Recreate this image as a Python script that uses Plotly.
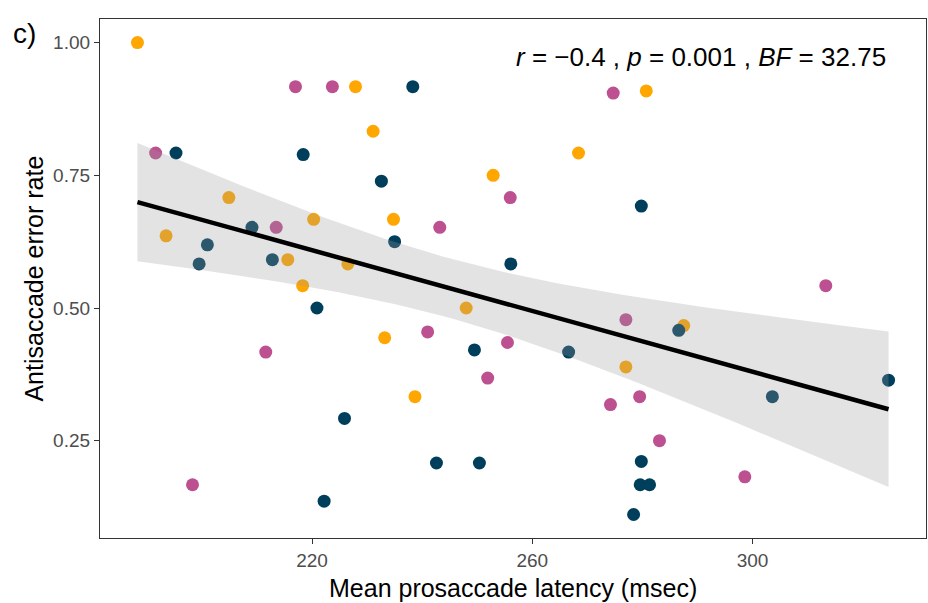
import numpy as np
import plotly.graph_objects as go

# ---- data ----
orange_x = [188.3, 227.9, 231.1, 204.9, 220.3, 193.5, 215.6, 226.5, 218.3, 233.2,
            280.7, 268.4, 252.9, 234.8, 248.0, 238.7, 277.0, 287.5]
orange_y = [1.000, 0.917, 0.833, 0.708, 0.667, 0.636, 0.591, 0.583, 0.542, 0.444,
            0.909, 0.792, 0.750, 0.667, 0.500, 0.333, 0.389, 0.467]

magenta_x = [217.0, 223.7, 191.6, 213.5, 211.6, 198.3, 274.7, 256.0, 243.2, 277.0,
             241.0, 255.5, 251.9, 274.2, 279.5, 313.3, 283.1, 298.6]
magenta_y = [0.917, 0.917, 0.792, 0.652, 0.417, 0.167, 0.905, 0.708, 0.652, 0.478,
             0.455, 0.435, 0.368, 0.318, 0.333, 0.542, 0.250, 0.182]

navy_x = [195.3, 218.4, 232.6, 209.1, 201.0, 199.5, 212.8, 220.9, 225.9, 222.2,
          238.3, 279.8, 235.0, 256.1, 249.5, 266.6, 242.6, 250.4, 279.8, 279.6,
          281.3, 278.4, 286.6, 303.6, 324.7]
navy_y = [0.792, 0.789, 0.739, 0.652, 0.619, 0.583, 0.591, 0.500, 0.292, 0.136,
          0.917, 0.692, 0.625, 0.583, 0.421, 0.417, 0.208, 0.208, 0.211, 0.167,
          0.167, 0.111, 0.458, 0.333, 0.364]

x_ticks = [220, 260, 300]
y_ticks = [0.25, 0.50, 0.75, 1.00]
stat_text = "<i>r</i> = \u22120.4 , <i>p</i> = 0.001 , <i>BF</i> = 32.75"
panel_label = "c)"
x_title = "Mean prosaccade latency (msec)"
y_title = "Antisaccade error rate"

groups = [
    (orange_x, orange_y, "#ffa600"),
    (magenta_x, magenta_y, "#bc5090"),
    (navy_x, navy_y, "#003f5c"),
]

# ---- linear fit with 95% confidence band (as geom_smooth(method = "lm")) ----
all_x = np.array(orange_x + magenta_x + navy_x)
all_y = np.array(orange_y + magenta_y + navy_y)
n = len(all_x)
b1, b0 = np.polyfit(all_x, all_y, 1)
resid = all_y - (b0 + b1 * all_x)
s = np.sqrt(np.sum(resid ** 2) / (n - 2))
xm = all_x.mean()
sxx = np.sum((all_x - xm) ** 2)
xs = np.linspace(all_x.min(), all_x.max(), 80)
fit = b0 + b1 * xs
se = s * np.sqrt(1.0 / n + (xs - xm) ** 2 / sxx)
tq = 2.001
upper = fit + tq * se
lower = fit - tq * se

fig = go.Figure()
for gx, gy, col in groups:
    fig.add_trace(go.Scatter(x=gx, y=gy, mode="markers",
                             marker=dict(size=13, color=col, line=dict(width=0)),
                             showlegend=False, hoverinfo="skip"))

fig.add_trace(go.Scatter(x=np.concatenate([xs, xs[::-1]]),
                         y=np.concatenate([upper, lower[::-1]]),
                         fill="toself", fillcolor="rgba(153,153,153,0.28)",
                         line=dict(width=0), mode="lines",
                         showlegend=False, hoverinfo="skip"))
fig.add_trace(go.Scatter(x=xs, y=fit, mode="lines",
                         line=dict(color="black", width=4.5),
                         showlegend=False, hoverinfo="skip"))

axis_common = dict(showgrid=False, zeroline=False, showline=True, mirror=True,
                   linecolor="#333333", linewidth=1.2, ticks="outside",
                   ticklen=5, tickwidth=1.2, tickcolor="#333333",
                   tickfont=dict(size=19, color="#4d4d4d"))

fig.update_layout(
    width=928, height=603,
    margin=dict(l=100, r=2, t=19, b=65),
    paper_bgcolor="white", plot_bgcolor="white",
    font=dict(family="Liberation Sans, Arial, sans-serif", color="black"),
    xaxis=dict(range=[181.5, 331.5], tickvals=x_ticks,
               ticktext=[str(v) for v in x_ticks], **axis_common),
    yaxis=dict(range=[0.0667, 1.0445], tickvals=y_ticks,
               ticktext=["%.2f" % v for v in y_ticks], **axis_common),
    annotations=[
        dict(text=x_title, xref="paper", yref="paper", x=0.5, y=-0.097,
             xanchor="center", yanchor="middle", showarrow=False,
             font=dict(size=25, color="black")),
        dict(text=y_title, xref="paper", yref="paper", x=-0.081, y=0.5,
             xanchor="center", yanchor="middle", textangle=-90, showarrow=False,
             font=dict(size=25, color="black")),
        dict(text=stat_text, xref="paper", yref="paper", x=0.727, y=0.927,
             xanchor="center", yanchor="middle", showarrow=False,
             font=dict(size=26, color="black")),
        dict(text=panel_label, xref="paper", yref="paper", x=-0.092, y=0.973,
             xanchor="center", yanchor="middle", showarrow=False,
             font=dict(size=28, color="black")),
    ],
)

fig.write_html("out.html",
               config={"displayModeBar": False},
               post_script="document.body.style.margin='0';document.body.style.overflow='hidden';")
